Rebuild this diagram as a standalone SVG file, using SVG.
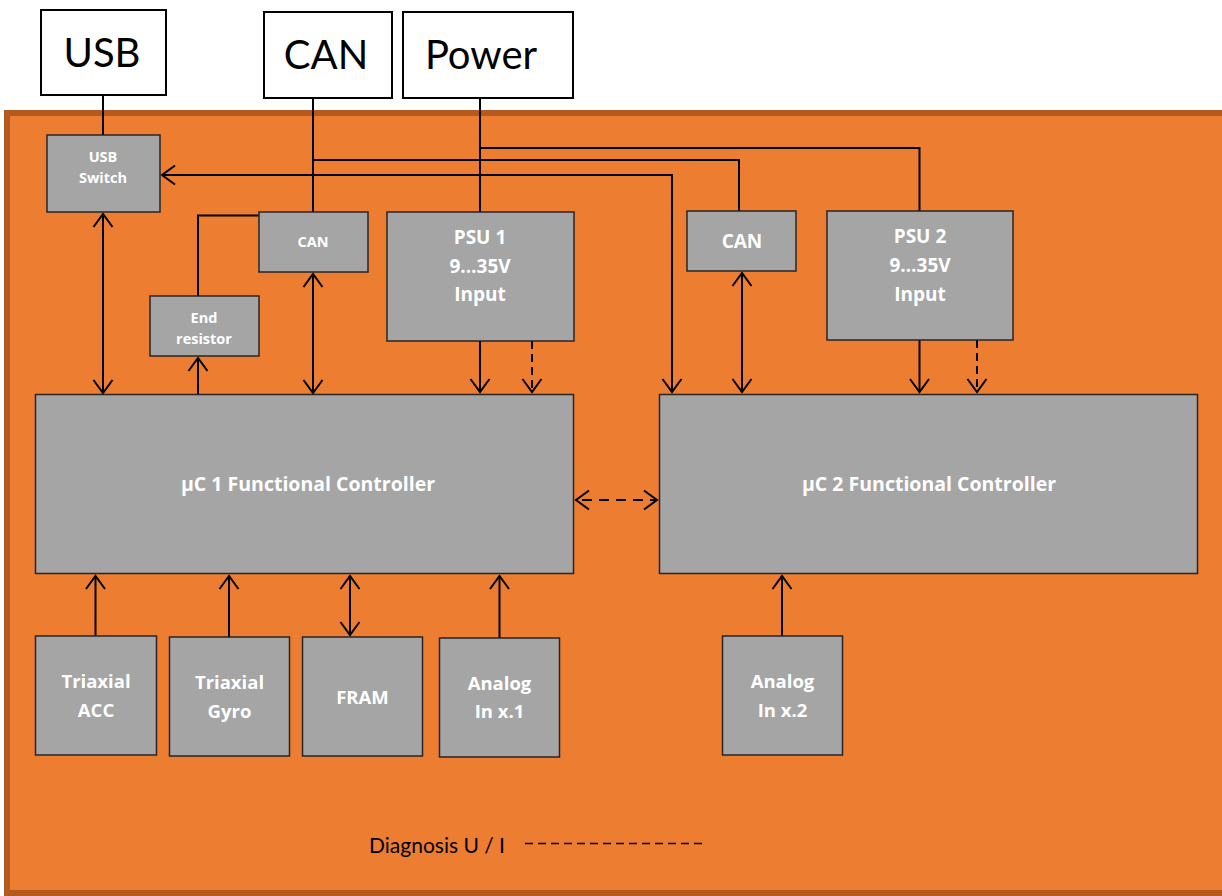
<svg xmlns="http://www.w3.org/2000/svg" width="1222" height="896" viewBox="0 0 1222 896">
<style>
.panel{fill:#ED7D31;stroke:#B55A1E;stroke-width:6}
.ext{fill:#FFFFFF;stroke:#000000;stroke-width:2}
.ext-t{font-family:Lato,"Liberation Sans",sans-serif;font-size:40px;fill:#000000;text-anchor:middle}
.box{fill:#A5A5A5;stroke:#262626;stroke-width:1.5}
.t{font-family:"Open Sans","Liberation Sans",sans-serif;font-weight:bold;fill:#FFFFFF;text-anchor:middle}
.s13{font-size:14.5px}
.s19{font-size:18.5px}
.s20{font-size:19px}
.suc{font-size:19.5px}
.ln{fill:none;stroke:#000000;stroke-width:2}
.dash{stroke-dasharray:8 5}
.legend{font-family:Lato,"Liberation Sans",sans-serif;font-size:21px;fill:#000000}
</style>
<defs>
<marker id="arr" markerUnits="userSpaceOnUse" markerWidth="30" markerHeight="30" refX="0" refY="0" viewBox="-15 -15 30 30" orient="auto-start-reverse" overflow="visible">
<path d="M-13,-9.5 L0,0 L-13,9.5" fill="none" stroke="#000000" stroke-width="2"/>
</marker>
</defs>
<rect class="panel" x="7" y="113" width="1230" height="780"/>

<g id="ext-usb"><rect class="ext" x="41" y="10" width="125" height="85"/><text class="ext-t" x="102" y="67">USB</text></g>
<g id="ext-can"><rect class="ext" x="264" y="12" width="128" height="86"/><text class="ext-t" x="326" y="69">CAN</text></g>
<g id="ext-power"><rect class="ext" x="403" y="12" width="170" height="86"/><text class="ext-t" x="481" y="69" font-size="43">Power</text></g>

<g id="connectors">
<path class="ln" d="M103,95 V135"/>
<path class="ln" d="M313,98 V215.5 H198 V296"/>
<path class="ln" d="M313,160 H739 V211"/>
<path class="ln" d="M480,98 V212"/>
<path class="ln" d="M480,148 H919.5 V211"/>
<path class="ln" d="M162,175 H672 V392" marker-start="url(#arr)" marker-end="url(#arr)"/>
<path class="ln" d="M103,214 V393" marker-start="url(#arr)" marker-end="url(#arr)"/>
<path class="ln" d="M313,274 V393" marker-start="url(#arr)" marker-end="url(#arr)"/>
<path class="ln" d="M198,405 V358" marker-end="url(#arr)"/>
<path class="ln" d="M480,341 V392" marker-end="url(#arr)"/>
<path class="ln dash" d="M532,341 V392" marker-end="url(#arr)"/>
<path class="ln" d="M742,273 V392" marker-start="url(#arr)" marker-end="url(#arr)"/>
<path class="ln" d="M919.5,340 V392" marker-end="url(#arr)"/>
<path class="ln dash" d="M977,340 V392" marker-end="url(#arr)"/>
<path class="ln" d="M576,500 H657" stroke-dasharray="10 7" stroke-dashoffset="-6" marker-start="url(#arr)" marker-end="url(#arr)"/>
<path class="ln" d="M95.5,636 V576" marker-end="url(#arr)"/>
<path class="ln" d="M229,637 V576" marker-end="url(#arr)"/>
<path class="ln" d="M350,635 V576" marker-start="url(#arr)" marker-end="url(#arr)"/>
<path class="ln" d="M499.5,638 V576" marker-end="url(#arr)"/>
<path class="ln" d="M782,636 V576" marker-end="url(#arr)"/>
</g>

<g id="usb-switch"><rect class="box" x="47" y="135" width="113" height="77"/><text class="t s13" x="103" y="162">USB</text><text class="t s13" x="103" y="183">Switch</text></g>
<g id="can1"><rect class="box" x="259" y="212" width="109" height="60"/><text class="t s13" x="313" y="247">CAN</text></g>
<g id="end-resistor"><rect class="box" x="150" y="296" width="109" height="60"/><text class="t s13" x="204" y="323">End</text><text class="t s13" x="204" y="344">resistor</text></g>
<g id="psu1"><rect class="box" x="387" y="212" width="187" height="129"/><text class="t s20" x="480" y="244">PSU 1</text><text class="t s20" x="480" y="273">9…35V</text><text class="t s20" x="480" y="301">Input</text></g>
<g id="can2"><rect class="box" x="687" y="211" width="109" height="60"/><text class="t s20" x="742" y="248">CAN</text></g>
<g id="psu2"><rect class="box" x="827" y="211" width="186" height="129"/><text class="t s20" x="920" y="243">PSU 2</text><text class="t s20" x="920" y="272">9…35V</text><text class="t s20" x="920" y="301">Input</text></g>
<g id="uc1"><rect class="box" x="35.5" y="394.5" width="538" height="179"/><text class="t suc" x="308" y="491">µC 1 Functional Controller</text></g>
<g id="uc2"><rect class="box" x="659.5" y="394.5" width="538" height="179"/><text class="t suc" x="929" y="491">µC 2 Functional Controller</text></g>
<g id="acc"><rect class="box" x="35.5" y="636" width="121" height="119"/><text class="t s19" x="96" y="688">Triaxial</text><text class="t s19" x="96" y="717">ACC</text></g>
<g id="gyro"><rect class="box" x="169.5" y="637" width="120" height="119"/><text class="t s19" x="229.5" y="689">Triaxial</text><text class="t s19" x="229.5" y="718">Gyro</text></g>
<g id="fram"><rect class="box" x="302.5" y="637" width="120" height="119"/><text class="t s19" x="362.5" y="704">FRAM</text></g>
<g id="analog1"><rect class="box" x="439.5" y="638" width="120" height="119"/><text class="t s19" x="499.5" y="690">Analog</text><text class="t s19" x="499.5" y="718">In x.1</text></g>
<g id="analog2"><rect class="box" x="722.5" y="636" width="120" height="119"/><text class="t s19" x="782.5" y="688">Analog</text><text class="t s19" x="782.5" y="717">In x.2</text></g>

<g id="legend"><text class="legend" x="369" y="853">Diagnosis U / I</text><path d="M525,843.5 H702" fill="none" stroke="#000000" stroke-width="1.5" stroke-dasharray="8 5"/></g>
</svg>
